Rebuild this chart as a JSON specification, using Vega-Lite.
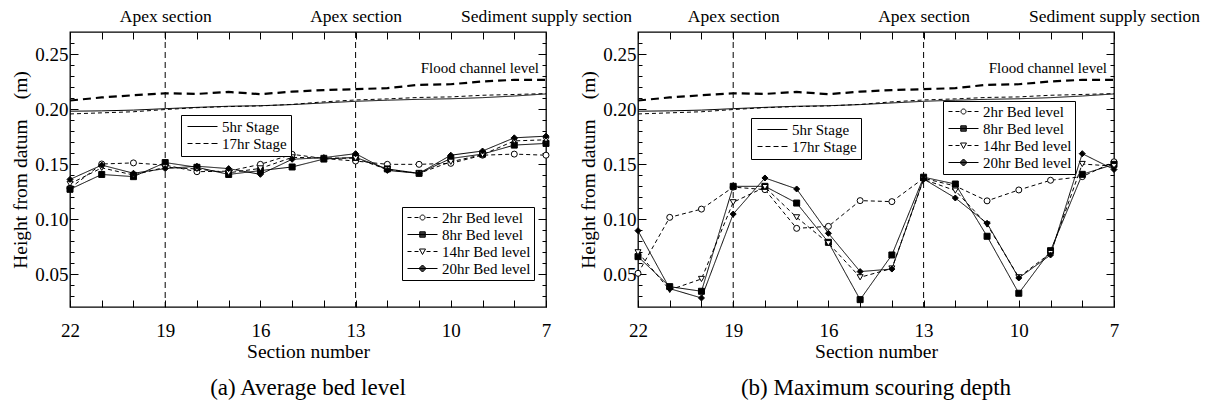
{
"$schema": "https://vega.github.io/schema/vega-lite/v6.json",
"background": "white",
"padding": {"left": 10, "top": 6, "right": 0, "bottom": 0},
"bounds": "flush",
"spacing": 92,
"datasets": {
"flood": [
{"section":22,"value":0.2077},{"section":21,"value":0.2105},{"section":20,"value":0.2125},{"section":19,"value":0.2143},{"section":18,"value":0.2137},{"section":17,"value":0.2155},{"section":16,"value":0.2135},{"section":15,"value":0.2158},{"section":14,"value":0.2172},{"section":13,"value":0.2180},{"section":12,"value":0.2190},{"section":11,"value":0.2220},{"section":10,"value":0.2225},{"section":9,"value":0.2250},{"section":8,"value":0.2265},{"section":7,"value":0.2265}
],
"stage": [
{"section":22,"stage":"5hr Stage","value":0.1980},{"section":21,"stage":"5hr Stage","value":0.1983},{"section":20,"stage":"5hr Stage","value":0.1990},{"section":19,"stage":"5hr Stage","value":0.2003},{"section":18,"stage":"5hr Stage","value":0.2015},{"section":17,"stage":"5hr Stage","value":0.2025},{"section":16,"stage":"5hr Stage","value":0.2030},{"section":15,"stage":"5hr Stage","value":0.2040},{"section":14,"stage":"5hr Stage","value":0.2055},{"section":13,"stage":"5hr Stage","value":0.2070},{"section":12,"stage":"5hr Stage","value":0.2080},{"section":11,"stage":"5hr Stage","value":0.2088},{"section":10,"stage":"5hr Stage","value":0.2093},{"section":9,"stage":"5hr Stage","value":0.2103},{"section":8,"stage":"5hr Stage","value":0.2118},{"section":7,"stage":"5hr Stage","value":0.2137},
{"section":22,"stage":"17hr Stage","value":0.1955},{"section":21,"stage":"17hr Stage","value":0.1965},{"section":20,"stage":"17hr Stage","value":0.1975},{"section":19,"stage":"17hr Stage","value":0.1995},{"section":18,"stage":"17hr Stage","value":0.2012},{"section":17,"stage":"17hr Stage","value":0.2022},{"section":16,"stage":"17hr Stage","value":0.2028},{"section":15,"stage":"17hr Stage","value":0.2042},{"section":14,"stage":"17hr Stage","value":0.2065},{"section":13,"stage":"17hr Stage","value":0.2082},{"section":12,"stage":"17hr Stage","value":0.2092},{"section":11,"stage":"17hr Stage","value":0.2105},{"section":10,"stage":"17hr Stage","value":0.2110},{"section":9,"stage":"17hr Stage","value":0.2125},{"section":8,"stage":"17hr Stage","value":0.2132},{"section":7,"stage":"17hr Stage","value":0.2140}
],
"apex": [{"section":19},{"section":13}],
"floodLabel": [{"section":7,"value":0.2375,"label":"Flood channel level"}],
"bedA": [
{"section":22,"series":"2hr Bed level","value":0.128},{"section":21,"series":"2hr Bed level","value":0.150},{"section":20,"series":"2hr Bed level","value":0.151},{"section":19,"series":"2hr Bed level","value":0.149},{"section":18,"series":"2hr Bed level","value":0.143},{"section":17,"series":"2hr Bed level","value":0.1435},{"section":16,"series":"2hr Bed level","value":0.1497},{"section":15,"series":"2hr Bed level","value":0.1588},{"section":14,"series":"2hr Bed level","value":0.155},{"section":13,"series":"2hr Bed level","value":0.1527},{"section":12,"series":"2hr Bed level","value":0.1497},{"section":11,"series":"2hr Bed level","value":0.1497},{"section":10,"series":"2hr Bed level","value":0.1506},{"section":9,"series":"2hr Bed level","value":0.158},{"section":8,"series":"2hr Bed level","value":0.159},{"section":7,"series":"2hr Bed level","value":0.158},
{"section":22,"series":"8hr Bed level","value":0.127},{"section":21,"series":"8hr Bed level","value":0.1405},{"section":20,"series":"8hr Bed level","value":0.1385},{"section":19,"series":"8hr Bed level","value":0.1513},{"section":18,"series":"8hr Bed level","value":0.147},{"section":17,"series":"8hr Bed level","value":0.1405},{"section":16,"series":"8hr Bed level","value":0.144},{"section":15,"series":"8hr Bed level","value":0.1473},{"section":14,"series":"8hr Bed level","value":0.1545},{"section":13,"series":"8hr Bed level","value":0.156},{"section":12,"series":"8hr Bed level","value":0.1455},{"section":11,"series":"8hr Bed level","value":0.1415},{"section":10,"series":"8hr Bed level","value":0.155},{"section":9,"series":"8hr Bed level","value":0.159},{"section":8,"series":"8hr Bed level","value":0.1672},{"section":7,"series":"8hr Bed level","value":0.1687},
{"section":22,"series":"14hr Bed level","value":0.132},{"section":21,"series":"14hr Bed level","value":0.1465},{"section":20,"series":"14hr Bed level","value":0.140},{"section":19,"series":"14hr Bed level","value":0.147},{"section":18,"series":"14hr Bed level","value":0.1455},{"section":17,"series":"14hr Bed level","value":0.142},{"section":16,"series":"14hr Bed level","value":0.146},{"section":15,"series":"14hr Bed level","value":0.156},{"section":14,"series":"14hr Bed level","value":0.1555},{"section":13,"series":"14hr Bed level","value":0.1552},{"section":12,"series":"14hr Bed level","value":0.145},{"section":11,"series":"14hr Bed level","value":0.1415},{"section":10,"series":"14hr Bed level","value":0.152},{"section":9,"series":"14hr Bed level","value":0.1585},{"section":8,"series":"14hr Bed level","value":0.171},{"section":7,"series":"14hr Bed level","value":0.172},
{"section":22,"series":"20hr Bed level","value":0.136},{"section":21,"series":"20hr Bed level","value":0.149},{"section":20,"series":"20hr Bed level","value":0.1416},{"section":19,"series":"20hr Bed level","value":0.1458},{"section":18,"series":"20hr Bed level","value":0.148},{"section":17,"series":"20hr Bed level","value":0.1458},{"section":16,"series":"20hr Bed level","value":0.1406},{"section":15,"series":"20hr Bed level","value":0.1543},{"section":14,"series":"20hr Bed level","value":0.1558},{"section":13,"series":"20hr Bed level","value":0.1594},{"section":12,"series":"20hr Bed level","value":0.1442},{"section":11,"series":"20hr Bed level","value":0.1415},{"section":10,"series":"20hr Bed level","value":0.158},{"section":9,"series":"20hr Bed level","value":0.1618},{"section":8,"series":"20hr Bed level","value":0.1738},{"section":7,"series":"20hr Bed level","value":0.1753}
],
"bedB": [
{"section":22,"series":"2hr Bed level","value":0.0506},{"section":21,"series":"2hr Bed level","value":0.1015},{"section":20,"series":"2hr Bed level","value":0.109},{"section":19,"series":"2hr Bed level","value":0.129},{"section":18,"series":"2hr Bed level","value":0.1267},{"section":17,"series":"2hr Bed level","value":0.0915},{"section":16,"series":"2hr Bed level","value":0.0933},{"section":15,"series":"2hr Bed level","value":0.1167},{"section":14,"series":"2hr Bed level","value":0.1158},{"section":13,"series":"2hr Bed level","value":0.137},{"section":12,"series":"2hr Bed level","value":0.130},{"section":11,"series":"2hr Bed level","value":0.1165},{"section":10,"series":"2hr Bed level","value":0.1264},{"section":9,"series":"2hr Bed level","value":0.1352},{"section":8,"series":"2hr Bed level","value":0.1385},{"section":7,"series":"2hr Bed level","value":0.152},
{"section":22,"series":"8hr Bed level","value":0.0658},{"section":21,"series":"8hr Bed level","value":0.0385},{"section":20,"series":"8hr Bed level","value":0.0343},{"section":19,"series":"8hr Bed level","value":0.1297},{"section":18,"series":"8hr Bed level","value":0.1297},{"section":17,"series":"8hr Bed level","value":0.1145},{"section":16,"series":"8hr Bed level","value":0.0788},{"section":15,"series":"8hr Bed level","value":0.0267},{"section":14,"series":"8hr Bed level","value":0.0673},{"section":13,"series":"8hr Bed level","value":0.138},{"section":12,"series":"8hr Bed level","value":0.1318},{"section":11,"series":"8hr Bed level","value":0.0843},{"section":10,"series":"8hr Bed level","value":0.0325},{"section":9,"series":"8hr Bed level","value":0.0712},{"section":8,"series":"8hr Bed level","value":0.1406},{"section":7,"series":"8hr Bed level","value":0.1497},
{"section":22,"series":"14hr Bed level","value":0.0697},{"section":21,"series":"14hr Bed level","value":0.0355},{"section":20,"series":"14hr Bed level","value":0.0455},{"section":19,"series":"14hr Bed level","value":0.1152},{"section":18,"series":"14hr Bed level","value":0.129},{"section":17,"series":"14hr Bed level","value":0.1015},{"section":16,"series":"14hr Bed level","value":0.078},{"section":15,"series":"14hr Bed level","value":0.047},{"section":14,"series":"14hr Bed level","value":0.055},{"section":13,"series":"14hr Bed level","value":0.136},{"section":12,"series":"14hr Bed level","value":0.1258},{"section":11,"series":"14hr Bed level","value":0.095},{"section":10,"series":"14hr Bed level","value":0.047},{"section":9,"series":"14hr Bed level","value":0.069},{"section":8,"series":"14hr Bed level","value":0.150},{"section":7,"series":"14hr Bed level","value":0.148},
{"section":22,"series":"20hr Bed level","value":0.0894},{"section":21,"series":"20hr Bed level","value":0.0367},{"section":20,"series":"20hr Bed level","value":0.0282},{"section":19,"series":"20hr Bed level","value":0.1045},{"section":18,"series":"20hr Bed level","value":0.1373},{"section":17,"series":"20hr Bed level","value":0.1273},{"section":16,"series":"20hr Bed level","value":0.087},{"section":15,"series":"20hr Bed level","value":0.0522},{"section":14,"series":"20hr Bed level","value":0.0545},{"section":13,"series":"20hr Bed level","value":0.1364},{"section":12,"series":"20hr Bed level","value":0.1191},{"section":11,"series":"20hr Bed level","value":0.0961},{"section":10,"series":"20hr Bed level","value":0.0464},{"section":9,"series":"20hr Bed level","value":0.0673},{"section":8,"series":"20hr Bed level","value":0.1594},{"section":7,"series":"20hr Bed level","value":0.145}
]
},
"hconcat": [
{
"width": 476, "height": 275,
"title": {"text": "(a) Average bed level", "orient": "bottom", "anchor": "middle", "offset": 16},
"resolve": {"axis": {"x": "independent", "y": "independent"}, "scale": {"strokeDash": "independent", "shape": "independent"}, "legend": {"strokeDash": "independent", "shape": "independent"}},
"layer": [
{"data": {"name": "flood"}, "mark": {"type": "line", "color": "black", "strokeWidth": 2.2, "strokeDash": [8, 5]},
 "encoding": {
  "x": {"field": "section", "type": "quantitative", "scale": {"domain": [7, 22], "reverse": true, "nice": false, "zero": false},
   "axis": {"orient": "bottom", "values": [7,8,9,10,11,12,13,14,15,16,17,18,19,20,21,22], "tickSize": -7, "labelExpr": "(22 - datum.value) % 3 == 0 ? datum.label : ''", "labelPadding": 21, "labelOverlap": false, "labelBound": false, "labelFlush": false, "title": "Section number", "titlePadding": 2}},
  "y": {"field": "value", "type": "quantitative", "scale": {"domain": [0.02, 0.27], "nice": false, "zero": false},
   "axis": {"orient": "left", "values": [0.03,0.04,0.05,0.06,0.07,0.08,0.09,0.1,0.11,0.12,0.13,0.14,0.15,0.16,0.17,0.18,0.19,0.2,0.21,0.22,0.23,0.24,0.25,0.26], "tickSize": {"condition": {"test": "round(datum.value*100) % 5 == 0", "value": -8}, "value": -4}, "labelExpr": "round(datum.value*100) % 5 == 0 ? format(datum.value, '.2f') : ''", "labelPadding": 10, "labelOverlap": false, "labelBound": false, "labelFlush": false, "title": "Height from datum\u3000(m)", "titlePadding": 4}}
 }},
{"data": {"name": "stage"}, "mark": {"type": "line", "color": "black", "strokeWidth": 1},
 "encoding": {
  "x": {"field": "section", "type": "quantitative", "scale": {"domain": [7, 22], "reverse": true, "nice": false, "zero": false},
   "axis": {"orient": "top", "values": [7,8,9,10,11,12,13,14,15,16,17,18,19,20,21,22], "tickSize": -7, "labels": false, "title": null}},
  "y": {"field": "value", "type": "quantitative", "scale": {"domain": [0.02, 0.27], "nice": false, "zero": false},
   "axis": {"orient": "right", "values": [0.03,0.04,0.05,0.06,0.07,0.08,0.09,0.1,0.11,0.12,0.13,0.14,0.15,0.16,0.17,0.18,0.19,0.2,0.21,0.22,0.23,0.24,0.25,0.26], "tickSize": {"condition": {"test": "round(datum.value*100) % 5 == 0", "value": -8}, "value": -4}, "labels": false, "title": null}},
  "strokeDash": {"field": "stage", "type": "nominal", "scale": {"domain": ["5hr Stage", "17hr Stage"], "range": [[1, 0], [4, 3]]}, "legend": null}
 }},
{"data": {"name": "bedA"}, "mark": {"type": "line", "color": "black", "strokeWidth": 1},
 "encoding": {
  "x": {"field": "section", "type": "quantitative", "scale": {"domain": [7, 22], "reverse": true, "nice": false, "zero": false},
   "axis": {"orient": "top", "values": [19, 13, 7], "ticks": false, "labelExpr": "datum.value == 7 ? 'Sediment supply section' : 'Apex section'", "labelFontSize": 17.5, "labelPadding": 7, "labelOverlap": false, "labelBound": false, "labelFlush": false, "title": null}},
  "y": {"field": "value", "type": "quantitative", "scale": {"domain": [0.02, 0.27], "nice": false, "zero": false}, "axis": null},
  "strokeDash": {"field": "series", "type": "nominal", "scale": {"domain": ["2hr Bed level", "8hr Bed level", "14hr Bed level", "20hr Bed level"], "range": [[4, 3], [1, 0], [4, 3], [1, 0]]}, "legend": null}
 }},
{"data": {"name": "apex"}, "mark": {"type": "rule", "color": "black", "strokeWidth": 1, "strokeDash": [6, 4]},
 "encoding": {"x": {"field": "section", "type": "quantitative", "scale": {"domain": [7, 22], "reverse": true, "nice": false, "zero": false}, "axis": null}}},
{"data": {"name": "bedA"}, "mark": {"type": "point", "stroke": "black", "strokeWidth": 1, "opacity": 1, "size": 36},
 "encoding": {
  "x": {"field": "section", "type": "quantitative", "scale": {"domain": [7, 22], "reverse": true, "nice": false, "zero": false}, "axis": null},
  "y": {"field": "value", "type": "quantitative", "scale": {"domain": [0.02, 0.27], "nice": false, "zero": false}, "axis": null},
  "fill": {"field": "series", "type": "nominal", "scale": {"domain": ["2hr Bed level", "8hr Bed level", "14hr Bed level", "20hr Bed level"], "range": ["white", "black", "white", "black"]}, "legend": null},
  "shape": {"field": "series", "type": "nominal", "scale": {"domain": ["2hr Bed level", "8hr Bed level", "14hr Bed level", "20hr Bed level"], "range": ["circle", "square", "triangle-down", "diamond"]}, "legend": null}
 }},
{"data": {"name": "bedA"}, "transform": [{"filter": "false"}], "mark": {"type": "point", "stroke": "black", "strokeWidth": 1, "opacity": 1, "size": 100, "filled": false},
 "encoding": {
  "x": {"field": "section", "type": "quantitative", "scale": {"domain": [7, 22], "reverse": true, "nice": false, "zero": false}, "axis": null},
  "y": {"field": "value", "type": "quantitative", "scale": {"domain": [0.02, 0.27], "nice": false, "zero": false}, "axis": null},
  "shape": {"field": "series", "type": "nominal", "scale": {"domain": ["2hr Bed level", "8hr Bed level", "14hr Bed level", "20hr Bed level"], "range": ["M-1,0H-0.2M0.4,0H1.2M2.8,0H3.6M4.2,0H5M2.5,0A0.5,0.5,0,1,1,1.5,0A0.5,0.5,0,1,1,2.5,0Z", "M-1,0H5M1.45,-0.55H2.55V0.55H1.45ZM1.45,-0.35H2.55M1.45,-0.15H2.55M1.45,0.15H2.55M1.45,0.35H2.55", "M-1,0H-0.2M0.4,0H1.2M2.8,0H3.6M4.2,0H5M1.4,-0.5H2.6L2,0.6Z", "M-1,0H5M2,-0.7L2.7,0L2,0.7L1.3,0ZM1.8,-0.5H2.2M1.6,-0.3H2.4M1.4,-0.1H2.6M1.4,0.1H2.6M1.6,0.3H2.4M1.8,0.5H2.2"]},
   "legend": {"orient": "none", "legendX": 332, "legendY": 175, "title": null, "strokeColor": "black", "padding": 3, "symbolSize": 100, "symbolStrokeWidth": 1, "symbolStrokeColor": "black", "symbolFillColor": "transparent", "labelOffset": 22, "labelFontSize": 15, "rowPadding": 1}}
 }},
{"data": {"name": "stage"}, "transform": [{"filter": "false"}], "mark": {"type": "point", "stroke": "black", "strokeWidth": 1, "opacity": 1, "size": 100, "filled": false},
 "encoding": {
  "x": {"field": "section", "type": "quantitative", "scale": {"domain": [7, 22], "reverse": true, "nice": false, "zero": false}, "axis": null},
  "y": {"field": "value", "type": "quantitative", "scale": {"domain": [0.02, 0.27], "nice": false, "zero": false}, "axis": null},
  "shape": {"field": "stage", "type": "nominal", "scale": {"domain": ["5hr Stage", "17hr Stage"], "range": ["M-1,0H5", "M-1,0H0M0.6,0H1.6M2.2,0H3.2M3.8,0H5"]},
   "legend": {"orient": "none", "legendX": 111, "legendY": 83, "title": null, "strokeColor": "black", "padding": 4, "symbolSize": 100, "symbolStrokeWidth": 1, "symbolStrokeColor": "black", "labelOffset": 22, "labelFontSize": 15, "rowPadding": 1}}
 }},
{"data": {"name": "floodLabel"}, "mark": {"type": "text", "align": "right", "baseline": "middle", "dx": -7, "font": "Liberation Serif", "fontSize": 15, "color": "black"},
 "encoding": {
  "x": {"field": "section", "type": "quantitative", "scale": {"domain": [7, 22], "reverse": true, "nice": false, "zero": false}, "axis": null},
  "y": {"field": "value", "type": "quantitative", "scale": {"domain": [0.02, 0.27], "nice": false, "zero": false}, "axis": null},
  "text": {"field": "label"}
 }}
]
},
{
"width": 476, "height": 275,
"title": {"text": "(b) Maximum scouring depth", "orient": "bottom", "anchor": "middle", "offset": 16},
"resolve": {"axis": {"x": "independent", "y": "independent"}, "scale": {"strokeDash": "independent", "shape": "independent"}, "legend": {"strokeDash": "independent", "shape": "independent"}},
"layer": [
{"data": {"name": "flood"}, "mark": {"type": "line", "color": "black", "strokeWidth": 2.2, "strokeDash": [8, 5]},
 "encoding": {
  "x": {"field": "section", "type": "quantitative", "scale": {"domain": [7, 22], "reverse": true, "nice": false, "zero": false},
   "axis": {"orient": "bottom", "values": [7,8,9,10,11,12,13,14,15,16,17,18,19,20,21,22], "tickSize": -7, "labelExpr": "(22 - datum.value) % 3 == 0 ? datum.label : ''", "labelPadding": 21, "labelOverlap": false, "labelBound": false, "labelFlush": false, "title": "Section number", "titlePadding": 2}},
  "y": {"field": "value", "type": "quantitative", "scale": {"domain": [0.02, 0.27], "nice": false, "zero": false},
   "axis": {"orient": "left", "values": [0.03,0.04,0.05,0.06,0.07,0.08,0.09,0.1,0.11,0.12,0.13,0.14,0.15,0.16,0.17,0.18,0.19,0.2,0.21,0.22,0.23,0.24,0.25,0.26], "tickSize": {"condition": {"test": "round(datum.value*100) % 5 == 0", "value": -8}, "value": -4}, "labelExpr": "round(datum.value*100) % 5 == 0 ? format(datum.value, '.2f') : ''", "labelPadding": 10, "labelOverlap": false, "labelBound": false, "labelFlush": false, "title": "Height from datum\u3000(m)", "titlePadding": 4}}
 }},
{"data": {"name": "stage"}, "mark": {"type": "line", "color": "black", "strokeWidth": 1},
 "encoding": {
  "x": {"field": "section", "type": "quantitative", "scale": {"domain": [7, 22], "reverse": true, "nice": false, "zero": false},
   "axis": {"orient": "top", "values": [7,8,9,10,11,12,13,14,15,16,17,18,19,20,21,22], "tickSize": -7, "labels": false, "title": null}},
  "y": {"field": "value", "type": "quantitative", "scale": {"domain": [0.02, 0.27], "nice": false, "zero": false},
   "axis": {"orient": "right", "values": [0.03,0.04,0.05,0.06,0.07,0.08,0.09,0.1,0.11,0.12,0.13,0.14,0.15,0.16,0.17,0.18,0.19,0.2,0.21,0.22,0.23,0.24,0.25,0.26], "tickSize": {"condition": {"test": "round(datum.value*100) % 5 == 0", "value": -8}, "value": -4}, "labels": false, "title": null}},
  "strokeDash": {"field": "stage", "type": "nominal", "scale": {"domain": ["5hr Stage", "17hr Stage"], "range": [[1, 0], [4, 3]]}, "legend": null}
 }},
{"data": {"name": "bedB"}, "mark": {"type": "line", "color": "black", "strokeWidth": 1},
 "encoding": {
  "x": {"field": "section", "type": "quantitative", "scale": {"domain": [7, 22], "reverse": true, "nice": false, "zero": false},
   "axis": {"orient": "top", "values": [19, 13, 7], "ticks": false, "labelExpr": "datum.value == 7 ? 'Sediment supply section' : 'Apex section'", "labelFontSize": 17.5, "labelPadding": 7, "labelOverlap": false, "labelBound": false, "labelFlush": false, "title": null}},
  "y": {"field": "value", "type": "quantitative", "scale": {"domain": [0.02, 0.27], "nice": false, "zero": false}, "axis": null},
  "strokeDash": {"field": "series", "type": "nominal", "scale": {"domain": ["2hr Bed level", "8hr Bed level", "14hr Bed level", "20hr Bed level"], "range": [[4, 3], [1, 0], [4, 3], [1, 0]]}, "legend": null}
 }},
{"data": {"name": "apex"}, "mark": {"type": "rule", "color": "black", "strokeWidth": 1, "strokeDash": [6, 4]},
 "encoding": {"x": {"field": "section", "type": "quantitative", "scale": {"domain": [7, 22], "reverse": true, "nice": false, "zero": false}, "axis": null}}},
{"data": {"name": "bedB"}, "mark": {"type": "point", "stroke": "black", "strokeWidth": 1, "opacity": 1, "size": 36},
 "encoding": {
  "x": {"field": "section", "type": "quantitative", "scale": {"domain": [7, 22], "reverse": true, "nice": false, "zero": false}, "axis": null},
  "y": {"field": "value", "type": "quantitative", "scale": {"domain": [0.02, 0.27], "nice": false, "zero": false}, "axis": null},
  "fill": {"field": "series", "type": "nominal", "scale": {"domain": ["2hr Bed level", "8hr Bed level", "14hr Bed level", "20hr Bed level"], "range": ["white", "black", "white", "black"]}, "legend": null},
  "shape": {"field": "series", "type": "nominal", "scale": {"domain": ["2hr Bed level", "8hr Bed level", "14hr Bed level", "20hr Bed level"], "range": ["circle", "square", "triangle-down", "diamond"]}, "legend": null}
 }},
{"data": {"name": "bedB"}, "transform": [{"filter": "false"}], "mark": {"type": "point", "stroke": "black", "strokeWidth": 1, "opacity": 1, "size": 100, "filled": false},
 "encoding": {
  "x": {"field": "section", "type": "quantitative", "scale": {"domain": [7, 22], "reverse": true, "nice": false, "zero": false}, "axis": null},
  "y": {"field": "value", "type": "quantitative", "scale": {"domain": [0.02, 0.27], "nice": false, "zero": false}, "axis": null},
  "shape": {"field": "series", "type": "nominal", "scale": {"domain": ["2hr Bed level", "8hr Bed level", "14hr Bed level", "20hr Bed level"], "range": ["M-1,0H-0.2M0.4,0H1.2M2.8,0H3.6M4.2,0H5M2.5,0A0.5,0.5,0,1,1,1.5,0A0.5,0.5,0,1,1,2.5,0Z", "M-1,0H5M1.45,-0.55H2.55V0.55H1.45ZM1.45,-0.35H2.55M1.45,-0.15H2.55M1.45,0.15H2.55M1.45,0.35H2.55", "M-1,0H-0.2M0.4,0H1.2M2.8,0H3.6M4.2,0H5M1.4,-0.5H2.6L2,0.6Z", "M-1,0H5M2,-0.7L2.7,0L2,0.7L1.3,0ZM1.8,-0.5H2.2M1.6,-0.3H2.4M1.4,-0.1H2.6M1.4,0.1H2.6M1.6,0.3H2.4M1.8,0.5H2.2"]},
   "legend": {"orient": "none", "legendX": 305, "legendY": 69, "title": null, "strokeColor": "black", "padding": 3, "symbolSize": 100, "symbolStrokeWidth": 1, "symbolStrokeColor": "black", "symbolFillColor": "transparent", "labelOffset": 22, "labelFontSize": 15, "rowPadding": 1}}
 }},
{"data": {"name": "stage"}, "transform": [{"filter": "false"}], "mark": {"type": "point", "stroke": "black", "strokeWidth": 1, "opacity": 1, "size": 100, "filled": false},
 "encoding": {
  "x": {"field": "section", "type": "quantitative", "scale": {"domain": [7, 22], "reverse": true, "nice": false, "zero": false}, "axis": null},
  "y": {"field": "value", "type": "quantitative", "scale": {"domain": [0.02, 0.27], "nice": false, "zero": false}, "axis": null},
  "shape": {"field": "stage", "type": "nominal", "scale": {"domain": ["5hr Stage", "17hr Stage"], "range": ["M-1,0H5", "M-1,0H0M0.6,0H1.6M2.2,0H3.2M3.8,0H5"]},
   "legend": {"orient": "none", "legendX": 113, "legendY": 86, "title": null, "strokeColor": "black", "padding": 4, "symbolSize": 100, "symbolStrokeWidth": 1, "symbolStrokeColor": "black", "labelOffset": 22, "labelFontSize": 15, "rowPadding": 1}}
 }},
{"data": {"name": "floodLabel"}, "mark": {"type": "text", "align": "right", "baseline": "middle", "dx": -7, "font": "Liberation Serif", "fontSize": 15, "color": "black"},
 "encoding": {
  "x": {"field": "section", "type": "quantitative", "scale": {"domain": [7, 22], "reverse": true, "nice": false, "zero": false}, "axis": null},
  "y": {"field": "value", "type": "quantitative", "scale": {"domain": [0.02, 0.27], "nice": false, "zero": false}, "axis": null},
  "text": {"field": "label"}
 }}
]
}
],
"config": {
 "font": "Liberation Serif",
 "view": {"stroke": "black", "strokeWidth": 1.3},
 "axis": {"domain": false, "grid": false, "labelFont": "Liberation Serif", "titleFont": "Liberation Serif", "labelColor": "black", "titleColor": "black", "tickColor": "black", "tickWidth": 1, "labelFontSize": 19, "titleFontSize": 19.5, "titleFontWeight": "normal"},
 "legend": {"labelFont": "Liberation Serif", "labelColor": "black", "fillColor": "white"},
 "title": {"font": "Liberation Serif", "fontSize": 23, "fontWeight": "normal", "color": "black"}
}
}
